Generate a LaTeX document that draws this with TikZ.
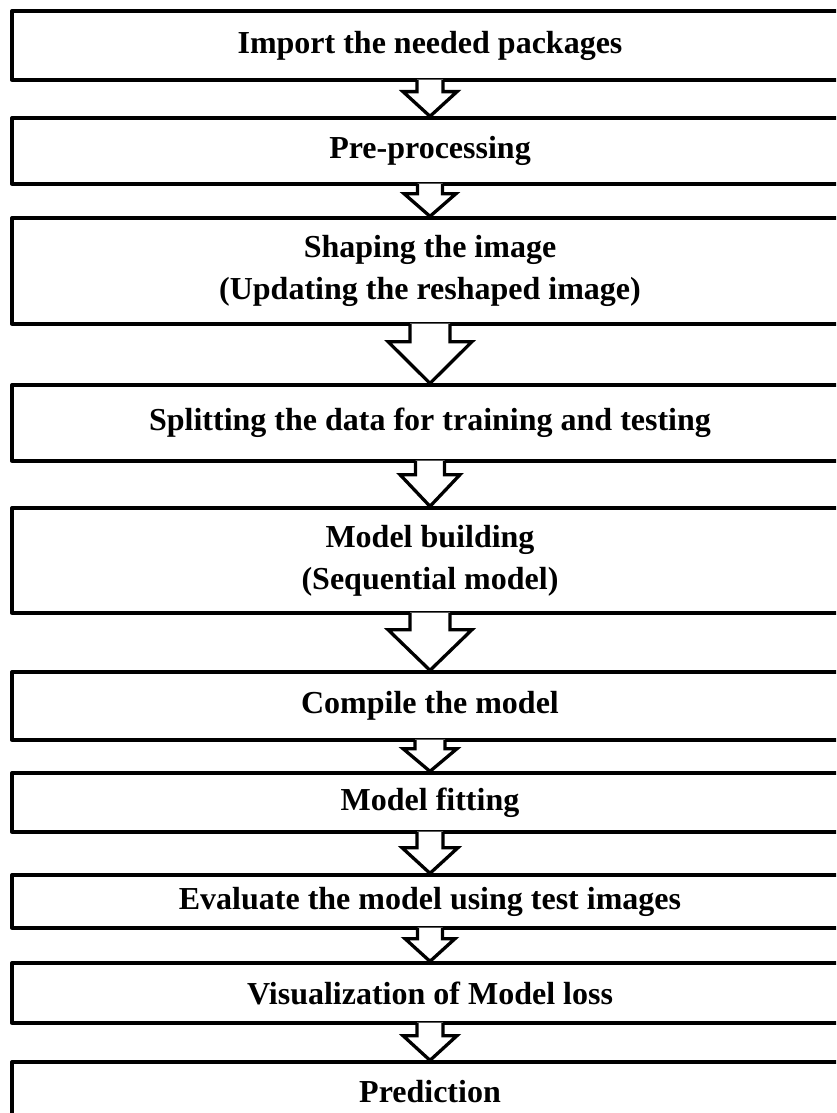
\documentclass[tikz,border=0pt]{standalone}
\usepackage{fontspec}
\setmainfont{Liberation Serif}
\usetikzlibrary{positioning,calc}

% block arrow from the bottom of one box to the top of the next:
% #1 from, #2 to, #3 half shaft width, #4 half head width, #5 shaft length
\newcommand{\blockarrow}[5]{%
  \fill[white] ($(#1.south)+(-#3,-2)$) -- ($(#1.south)+(-#3,#5)$) -- ($(#1.south)+(-#4,#5)$)
    -- (#2.north) -- ($(#1.south)+(#4,#5)$) -- ($(#1.south)+(#3,#5)$) -- ($(#1.south)+(#3,-2)$) -- cycle;
  \draw[myarrow] ($(#1.south)+(-#3,-1.6)$) -- ($(#1.south)+(-#3,#5)$) -- ($(#1.south)+(-#4,#5)$)
    -- (#2.north) -- ($(#1.south)+(#4,#5)$) -- ($(#1.south)+(#3,#5)$) -- ($(#1.south)+(#3,-1.6)$);
}

\begin{document}
\begin{tikzpicture}[x=1pt,y=-1pt,
  mybox/.style={draw, line width=3.3pt, line join=round, rectangle, inner sep=0pt,
    minimum width=836pt, align=center, font=\fontsize{32}{42}\selectfont\bfseries},
  myarrow/.style={draw, line width=3.3pt, line join=miter}
  ]
  \useasboundingbox (0,0) rectangle (836,1113);
  \clip (0,0) rectangle (836,1113);

  \node[mybox, minimum height=69pt] (import) at (430,45.5) {Import the needed packages};
  \node[mybox, minimum height=66pt] (prep) at (430,151) {Pre-processing};
  \node[mybox, minimum height=106pt] (shape) at (430,271) {Shaping the image\\(Updating the reshaped image)};
  \node[mybox, minimum height=76pt] (split) at (430,423) {Splitting the data for training and testing};
  \node[mybox, minimum height=105pt] (build) at (430,560.5) {Model building\\(Sequential model)};
  \node[mybox, minimum height=68pt] (compile) at (430,706) {Compile the model};
  \node[mybox, minimum height=59pt] (fit) at (430,802.5) {Model fitting};
  \node[mybox, minimum height=53pt] (eval) at (430,901.5) {Evaluate the model using test images};
  \node[mybox, minimum height=60pt] (visual) at (430,993) {Visualization of Model loss};
  \node[mybox, minimum height=60pt] (predict) at (430,1092) {Prediction};

  \blockarrow{import}{prep}{13}{27}{10}
  \blockarrow{prep}{shape}{12.5}{26}{8}
  \blockarrow{shape}{split}{20}{42}{16}
  \blockarrow{split}{build}{14.5}{30}{12}
  \blockarrow{build}{compile}{20}{42}{15}
  \blockarrow{compile}{fit}{15}{27}{7}
  \blockarrow{fit}{eval}{13}{28}{14}
  \blockarrow{eval}{visual}{12.5}{25}{9}
  \blockarrow{visual}{predict}{13}{27}{11}
\end{tikzpicture}
\end{document}
